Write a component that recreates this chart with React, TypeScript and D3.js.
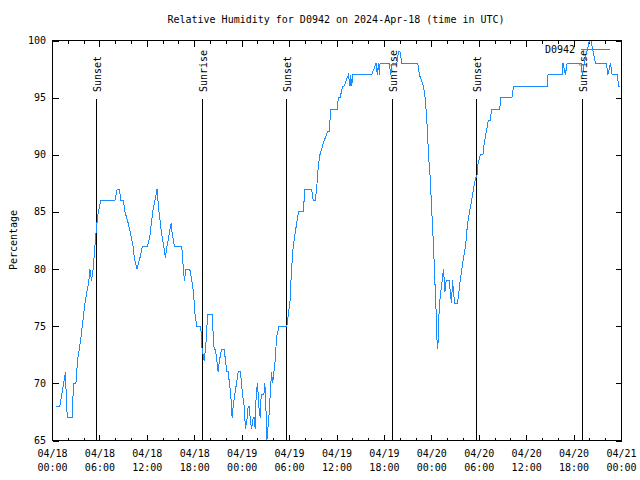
import React from 'react';
import * as d3 from 'd3';

const title = 'Relative Humidity for D0942 on 2024-Apr-18 (time in UTC)';
const yLabel = 'Percentage';
const seriesName = 'D0942';

// hours since 2024-04-18 00:00 UTC
const hours = [
  0.38, 0.93, 1.65, 1.77, 1.9, 2.49, 2.66, 2.96, 3.17, 3.6, 4.1, 4.61, 4.73, 4.94, 5.15, 5.37, 5.49, 5.62, 5.79, 6.13,
  7.9, 8.2, 8.45, 8.66, 8.96, 9.17, 9.59, 9.9, 10.2, 10.35, 10.69, 11.07, 11.37, 12.04, 12.34, 12.68, 12.97, 13.22, 13.48, 13.82,
  14.07, 14.28, 14.49, 14.75, 15.0, 15.17, 15.42, 16.35, 16.56, 16.69, 16.9, 17.37, 17.62, 17.83, 18.04, 18.25, 18.76, 18.84, 18.93, 19.18,
  19.35, 19.48, 19.61, 20.2, 20.36, 20.45, 20.62, 20.79, 20.96, 21.13, 21.38, 21.72, 21.89, 22.06, 22.23, 22.39, 22.56, 22.73, 22.86, 23.07,
  23.28, 23.49, 23.79, 24.04, 24.25, 24.42, 24.63, 24.76, 24.89, 25.01, 25.18, 25.39, 25.52, 25.65, 25.77, 25.94, 26.11, 26.28, 26.41, 26.75,
  26.87, 27.0, 27.13, 27.25, 27.38, 27.55, 27.72, 27.85, 28.01, 28.18, 28.35, 28.65, 29.66, 29.83, 30.04, 30.25, 30.46, 30.68, 30.89, 31.14,
  31.73, 31.94, 32.79, 33.0, 33.25, 33.42, 33.63, 33.84, 34.27, 34.77, 35.03, 35.2, 36.04, 36.17, 36.4, 36.7, 36.89, 37.44, 37.65, 37.73,
  37.86, 37.99, 40.39, 40.94, 41.11, 41.24, 41.37, 41.45, 42.63, 42.8, 42.97, 43.56, 43.77, 43.98, 44.2, 46.22, 46.43, 46.94, 47.15, 47.37,
  47.58, 47.79, 48.0, 48.21, 48.38, 48.51, 48.63, 48.76, 48.84, 48.97, 49.14, 49.31, 49.48, 49.65, 49.82, 50.24, 50.32, 50.49, 50.62, 50.75,
  50.87, 51.25, 51.42, 51.59, 51.8, 52.01, 52.27, 52.52, 52.77, 53.03, 53.28, 53.53, 53.7, 53.79, 54.13, 54.46, 54.63, 54.89, 55.14, 55.39,
  55.56, 56.58, 56.75, 58.14, 58.35, 62.58, 62.7, 64.48, 64.6, 64.9, 65.11, 66.89, 67.05, 67.3, 67.6, 67.95, 68.15, 68.41, 68.7, 70.1,
  70.27, 70.6, 70.81, 71.24, 71.45, 71.66, 71.87,
];

const humidity = [
  68, 68, 71, 68, 67, 67, 70, 70, 72, 74, 77, 79, 80, 79, 80, 82, 83, 84, 85, 86,
  86, 87, 87, 86, 86, 85, 84, 83, 82, 81, 80, 81, 82, 82, 83, 85, 86, 87, 85, 83,
  82, 81, 82, 83, 84, 83, 82, 82, 80, 79, 80, 80, 79, 78, 76, 75, 75, 74, 73, 72,
  73, 74, 76, 76, 74, 73, 73, 72, 71, 72, 73, 73, 72, 71, 71, 70, 69, 67, 68, 69,
  70, 71, 71, 69, 68, 66, 67, 68, 68, 67, 66, 67, 67, 66, 69, 70, 68, 67, 69, 69,
  70, 68, 65, 66, 67, 69, 71, 70, 71, 72, 74, 75, 75, 76, 77, 80, 82, 83, 84, 85,
  85, 87, 87, 86, 86, 87, 89, 90, 91, 92, 92, 94, 94, 95, 95, 96, 96, 97, 96, 97,
  96, 97, 97, 98, 97, 98, 97, 98, 98, 97, 98, 98, 99, 99, 98, 98, 97, 96, 95, 93,
  90, 88, 85, 82, 79, 77, 74, 73, 75, 77, 78, 79, 80, 78, 79, 79, 78, 77, 79, 78,
  77, 77, 78, 79, 80, 81, 82, 84, 85, 86, 87, 88, 88, 89, 90, 90, 91, 92, 93, 93,
  94, 94, 95, 95, 96, 96, 97, 97, 98, 97, 98, 98, 97, 98, 99, 100, 100, 99, 98, 98,
  97, 98, 97, 97, 97, 96, 96,
];

const sunsetHours = [5.6, 29.55, 53.65];
const sunriseHours = [18.92, 43.0, 67.08];

const yTicks = [65, 70, 75, 80, 85, 90, 95, 100];
const xTickHours = [0, 6, 12, 18, 24, 30, 36, 42, 48, 54, 60, 66, 72];
const xTickDates = ['04/18', '04/18', '04/18', '04/18', '04/19', '04/19', '04/19', '04/19', '04/20', '04/20', '04/20', '04/20', '04/21'];
const xTickTimes = ['00:00', '06:00', '12:00', '18:00', '00:00', '06:00', '12:00', '18:00', '00:00', '06:00', '12:00', '18:00', '00:00'];
const xMinorHours = d3.range(0, 73, 2);

const FONT = '"DejaVu Sans Mono", "Liberation Mono", monospace';
const LINE_COLOR = '#1a8cff';

export default function App() {
  const left = 52.5, right = 621.5, top = 40.5, bottom = 440.5;
  const x = d3.scaleLinear().domain([0, 72]).range([left, right]);
  const y = d3.scaleLinear().domain([65, 100]).range([bottom, top]);
  const pts: [number, number][] = hours.map((h, i) => [h, humidity[i]]);
  const path = d3.line<[number, number]>().x(d => x(d[0])).y(d => y(d[1]))(pts) || '';

  const markers = [
    ...sunsetHours.map(h => ({ h, label: 'Sunset' })),
    ...sunriseHours.map(h => ({ h, label: 'Sunrise' })),
  ];

  return (
    <svg width={640} height={480} style={{ position: 'absolute', left: 0, top: 0, background: '#fff' }}
      fontFamily={FONT} fontSize={10}>
      <rect x={0} y={0} width={640} height={480} fill="#fff" />
      <text x={336} y={23} textAnchor="middle" fill="#000">{title}</text>
      <text transform={`translate(13,240) rotate(-90)`} textAnchor="middle" dominantBaseline="central" fill="#000">{yLabel}</text>

      {/* ticks */}
      <g shapeRendering="crispEdges" stroke="#000">
        {yTicks.map(v => (
          <g key={v}>
            <line x1={left} x2={left + 6} y1={Math.round(y(v)) + 0.5} y2={Math.round(y(v)) + 0.5} />
            <line x1={right - 6} x2={right} y1={Math.round(y(v)) + 0.5} y2={Math.round(y(v)) + 0.5} />
          </g>
        ))}
        {xMinorHours.map(h => {
          const major = h % 6 === 0;
          const len = major ? 6 : 3;
          const xx = Math.round(x(h) - 0.5) + 0.5;
          return (
            <g key={h}>
              <line x1={xx} x2={xx} y1={bottom} y2={bottom - len} />
              <line x1={xx} x2={xx} y1={top} y2={top + len} />
            </g>
          );
        })}
      </g>
      {yTicks.map(v => (
        <text key={v} x={46} y={y(v)} textAnchor="end" dominantBaseline="central" fill="#000">{v}</text>
      ))}
      {xTickHours.map((h, i) => (
        <g key={h}>
          <text x={x(h)} y={457} textAnchor="middle" fill="#000">{xTickDates[i]}</text>
          <text x={x(h)} y={471} textAnchor="middle" fill="#000">{xTickTimes[i]}</text>
        </g>
      ))}

      {/* sunrise / sunset markers */}
      {markers.map((m, i) => {
        const xx = Math.round(x(m.h) - 0.5) + 0.5;
        return (
          <g key={i}>
            <line x1={xx} x2={xx} y1={99} y2={bottom} stroke="#000" shapeRendering="crispEdges" />
            <text transform={`translate(${xx + 0.5},92) rotate(-90)`} textAnchor="start" dominantBaseline="central" fill="#000">{m.label}</text>
          </g>
        );
      })}

      {/* data */}
      <path d={path} fill="none" stroke={LINE_COLOR} strokeWidth={1} shapeRendering="crispEdges" />

      {/* legend */}
      <text x={575} y={53} textAnchor="end" fill="#000">{seriesName}</text>
      <line x1={581} x2={610} y1={49.5} y2={49.5} stroke={LINE_COLOR} shapeRendering="crispEdges" />

      {/* border */}
      <rect x={left} y={top} width={right - left} height={bottom - top} fill="none" stroke="#000" shapeRendering="crispEdges" />
    </svg>
  );
}
